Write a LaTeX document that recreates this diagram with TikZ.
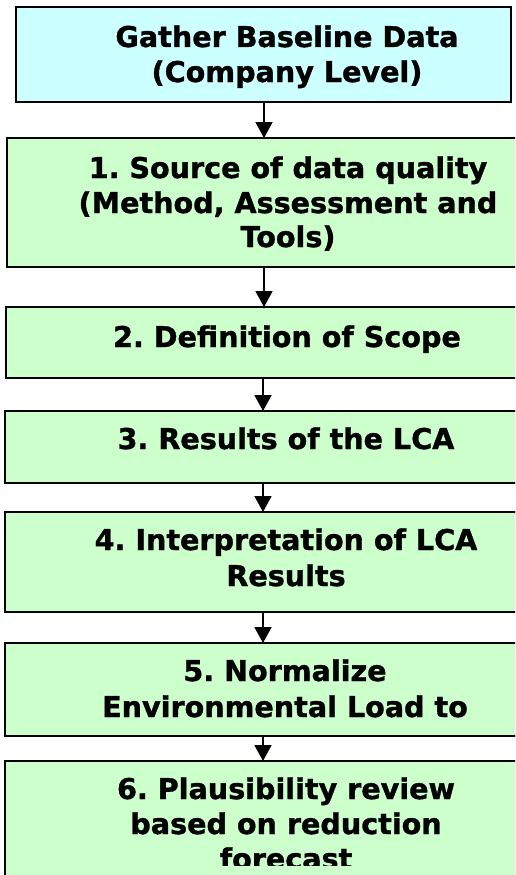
\documentclass[tikz,border=0pt]{standalone}
\usepackage{fontspec}
\setmainfont{DejaVu Sans}[BoldFeatures={FakeBold=1.2}]
\usetikzlibrary{arrows.meta}
\definecolor{cyanfill}{HTML}{CCFFFF}
\definecolor{greenfill}{HTML}{CCFFCC}
\frenchspacing
\begin{document}
\begin{tikzpicture}[x=1pt,y=-1pt,
  boxstyle/.style={draw=black, line width=2pt, rectangle, inner sep=0pt, outer sep=0pt, anchor=north west},
  cyanbox/.style={boxstyle, fill=cyanfill},
  greenbox/.style={boxstyle, fill=greenfill, minimum width=530pt},
  txt/.style={inner sep=0pt, outer sep=0pt, anchor=base, font=\fontsize{28.6}{35}\selectfont\bfseries},
  arr/.style={line width=1.8pt, -{Triangle[width=17pt,length=16pt]}}]
\useasboundingbox (0,0) rectangle (515,875);
\clip (0,0) rectangle (515,875);
\fill[white] (0,0) rectangle (515,875);
% boxes
\node[cyanbox, minimum width=495pt, minimum height=95pt] (top) at (16,7) {};
\node[greenbox, minimum height=129pt] (b1) at (7,138) {};
\node[greenbox, minimum height=71pt] (b2) at (6,307) {};
\node[greenbox, minimum height=72pt] (b3) at (5,411) {};
\node[greenbox, minimum height=100pt] (b4) at (5,512) {};
\node[greenbox, minimum height=93pt] (b5) at (5,643) {};
\node[greenbox, minimum height=130pt] (b6) at (5,761) {};
% texts
\node[txt] (t0a) at (287,47) {Gather Baseline Data};
\node[txt] (t0b) at (287,82) {(Company Level)};
\node[txt] (t1a) at (288,178) {1. Source of data quality};
\node[txt] (t1b) at (288,213) {(Method, Assessment and};
\node[txt] (t1c) at (288,247) {Tools)};
\node[txt] (t2a) at (287,347) {2. Definition of Scope};
\node[txt] (t3a) at (286,449) {3. Results of the LCA};
\node[txt] (t4a) at (286,550) {4. Interpretation of LCA};
\node[txt] (t4b) at (286,586) {Results};
\node[txt] (t5a) at (285,681) {5. Normalize};
\node[txt] (t5b) at (285,717) {Environmental Load to};
\begin{scope}
\clip (0,0) rectangle (515,865);
\node[txt] (t6a) at (286,799) {6. Plausibility review};
\node[txt] (t6b) at (286,834) {based on reduction};
\node[txt] (t6c) at (286,869) {forecast};
\end{scope}
% arrows
\coordinate (ax) at (264,0);
\coordinate (bx) at (263,0);
\draw[arr] (top.south -| ax) -- (b1.north -| ax);
\draw[arr] (b1.south -| ax) -- (b2.north -| ax);
\draw[arr] (b2.south -| bx) -- (b3.north -| bx);
\draw[arr] (b3.south -| bx) -- (b4.north -| bx);
\draw[arr] (b4.south -| bx) -- (b5.north -| bx);
\draw[arr] (b5.south -| bx) -- (b6.north -| bx);
\end{tikzpicture}
\end{document}
